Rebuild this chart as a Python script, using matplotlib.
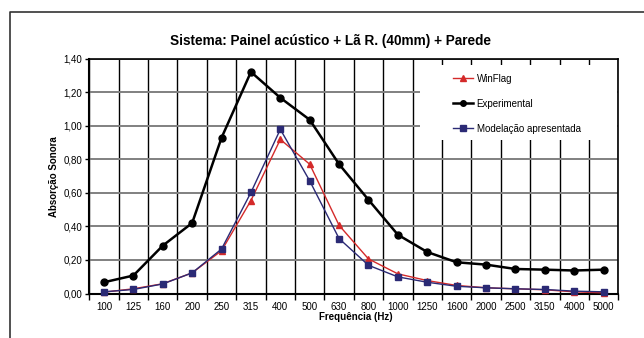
import numpy as np
import matplotlib
matplotlib.use('Agg')
import matplotlib.pyplot as plt
from matplotlib.patches import Rectangle
from matplotlib.lines import Line2D

plt.rcParams['font.family'] = ['Liberation Sans', 'DejaVu Sans']

freqs = ['100', '125', '160', '200', '250', '315', '400', '500', '630',
         '800', '1000', '1250', '1600', '2000', '2500', '3150', '4000', '5000']

winflag = [0.008, 0.028, 0.058, 0.123, 0.255, 0.554, 0.918, 0.770, 0.406,
           0.206, 0.117, 0.077, 0.048, 0.034, 0.028, 0.022, 0.010, 0.004]
experimental = [0.067, 0.107, 0.285, 0.420, 0.928, 1.320, 1.166, 1.035, 0.770,
                0.558, 0.350, 0.247, 0.186, 0.172, 0.146, 0.142, 0.137, 0.142]
modelacao = [0.010, 0.024, 0.057, 0.123, 0.265, 0.602, 0.978, 0.671, 0.327,
             0.168, 0.099, 0.067, 0.043, 0.034, 0.028, 0.024, 0.014, 0.010]

yticks = [0.0, 0.2, 0.4, 0.6, 0.8, 1.0, 1.2, 1.4]

W, H = 644, 338
fig = plt.figure(figsize=(W / 100, H / 100), dpi=100)
ax = fig.add_axes([89.3 / W, 1 - 293.5 / H, (618.3 - 89.3) / W, (293.5 - 58.5) / H])

x = np.arange(len(freqs))
ax.plot(x, winflag, color='#d42a2a', lw=1.0, marker='^', ms=5, clip_on=False,
        zorder=3, label='WinFlag')
ax.plot(x, experimental, color='black', lw=1.8, marker='o', ms=5, clip_on=False,
        zorder=3, label='Experimental')
ax.plot(x, modelacao, color='#2b2a75', lw=1.0, marker='s', ms=5, clip_on=False,
        zorder=4, label='Modelação apresentada')

ax.set_xlim(-0.5, len(freqs) - 0.5)
ax.set_ylim(0, 1.4)
ax.set_axisbelow(True)

ax.set_xticks(x)
ax.set_xticklabels(freqs, fontsize=7)
ax.set_xticks(np.arange(-0.5, len(freqs)), minor=True)
ax.tick_params(axis='x', which='major', length=0, pad=6)
ax.tick_params(axis='x', which='minor', length=4, width=1, direction='out')
ax.grid(axis='x', which='minor', color='black', lw=1.0)

ax.set_yticks(yticks)
ax.set_yticklabels([f'{v:.2f}'.replace('.', ',') for v in yticks], fontsize=7)
ax.tick_params(axis='y', length=3, width=1, direction='out', pad=2)
ax.grid(axis='y', which='major', color='#808080', lw=1.4)

for s in ax.spines.values():
    s.set_color('black')
    s.set_linewidth(1.2)
ax.spines['left'].set_linewidth(1.5)
ax.spines['bottom'].set_linewidth(1.5)

# white area behind the legend
ax.add_patch(Rectangle((0.625, 0.653), 0.372, 0.319, transform=ax.transAxes,
                       facecolor='white', edgecolor='none', zorder=1))
ax.legend(loc='upper left', bbox_to_anchor=(0.687, 0.936), frameon=False,
          fontsize=7, borderpad=0, borderaxespad=0, handlelength=2.1,
          handletextpad=0.35, labelspacing=1.55, markerscale=0.8)

fig.text(331 / W, 1 - 40.7 / H, 'Sistema: Painel acústico + Lã R. (40mm) + Parede',
         ha='center', va='center', fontsize=9.8, fontweight='bold')
fig.text(356 / W, 1 - 316.5 / H, 'Frequência (Hz)', ha='center', va='center',
         fontsize=7, fontweight='bold')
fig.text(54 / W, 1 - 176.5 / H, 'Absorção Sonora', ha='center', va='center',
         rotation=90, fontsize=7, fontweight='bold')

# chart frame (left and top edges visible)
fx, fy = 10 / W, 1 - 11.7 / H
fig.add_artist(Line2D([fx, fx, 1.0], [0.0, fy, fy], transform=fig.transFigure,
                      color='#333333', lw=1.2))

fig.savefig('out.png', dpi=100)
